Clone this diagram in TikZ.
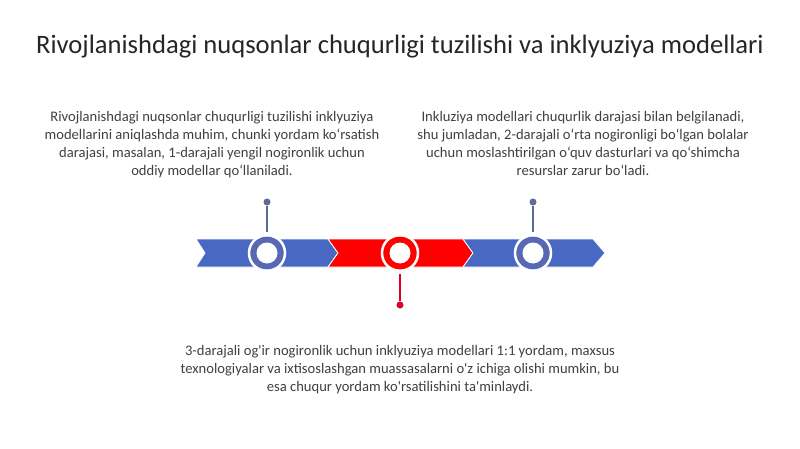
\documentclass[tikz,border=0pt]{standalone}
\usepackage{fontspec}
\setmainfont{Carlito}
\definecolor{barblue}{RGB}{72,104,196}
\definecolor{ringblue}{RGB}{88,104,178}
\definecolor{stemblue}{RGB}{96,106,150}
\definecolor{barred}{RGB}{255,0,0}
\definecolor{dotred}{RGB}{225,0,45}
\definecolor{txt}{RGB}{64,64,64}
\begin{document}
\begin{tikzpicture}[x=1pt,y=-1pt,
  seg/.style={draw=white,line width=0.8pt},
  ring/.style={circle,draw=white,line width=2.5pt,minimum size=36pt,inner sep=0pt,
     path picture={\fill[#1] (path picture bounding box.center) circle (16.5pt);
                   \fill[white] (path picture bounding box.center) circle (10.5pt);}},
  dot/.style={circle,fill=#1,minimum size=7pt,inner sep=0pt},
  stem/.style={draw=#1,line width=1.2pt},
  body/.style={align=center,text=txt,font=\fontsize{14.6}{18}\selectfont,inner sep=0pt}]
\useasboundingbox (0,0) rectangle (800,449);
\fill[white] (0,0) rectangle (800,449);
% title
\node[text=black!85,font=\fontsize{26.6}{30}\selectfont,inner sep=0pt] (title) at (400,47) {Rivojlanishdagi nuqsonlar chuqurligi tuzilishi va inklyuziya modellari};
% bar
\fill[barblue,seg] (196,239) -- (328,239) -- (338,253) -- (328,267) -- (196,267) -- (205,253) -- cycle;
\fill[barred,seg] (328,239) -- (463,239) -- (473,253) -- (463,267) -- (328,267) -- (338,253) -- cycle;
\fill[barblue,seg] (463,239) -- (593,239) -- (605,253) -- (593,267) -- (463,267) -- (473,253) -- cycle;
% rings
\node[ring=ringblue] (r1) at (267,253) {};
\node[ring=barred] (r2) at (400,253) {};
\node[ring=ringblue] (r3) at (533,253) {};
% dots
\node[dot=stemblue] (d1) at (267,202) {};
\node[dot=dotred] (d2) at (400,305) {};
\node[dot=stemblue] (d3) at (533,202) {};
% stems
\path[stem=stemblue] (d1) -- ([yshift=2pt]r1.north);
\path[stem=dotred] (d2) -- ([yshift=-2pt]r2.south);
\path[stem=stemblue] (d3) -- ([yshift=2pt]r3.north);
% texts
\node[body,anchor=north] (t1) at (212,111) {Rivojlanishdagi nuqsonlar chuqurligi tuzilishi inklyuziya\\modellarini aniqlashda muhim, chunki yordam ko‘rsatish\\darajasi, masalan, 1-darajali yengil nogironlik uchun\\oddiy modellar qo‘llaniladi.};
\node[body,anchor=north] (t3) at (583,111) {Inkluziya modellari chuqurlik darajasi bilan belgilanadi,\\shu jumladan, 2-darajali o‘rta nogironligi bo‘lgan bolalar\\uchun moslashtirilgan o‘quv dasturlari va qo‘shimcha\\resurslar zarur bo‘ladi.};
\node[body,anchor=north] (t2) at (400,345) {3-darajali og\textquotesingle ir nogironlik uchun inklyuziya modellari 1:1 yordam, maxsus\\texnologiyalar va ixtisoslashgan muassasalarni o\textquotesingle z ichiga olishi mumkin, bu\\esa chuqur yordam ko\textquotesingle rsatilishini ta\textquotesingle minlaydi.};
\end{tikzpicture}
\end{document}
